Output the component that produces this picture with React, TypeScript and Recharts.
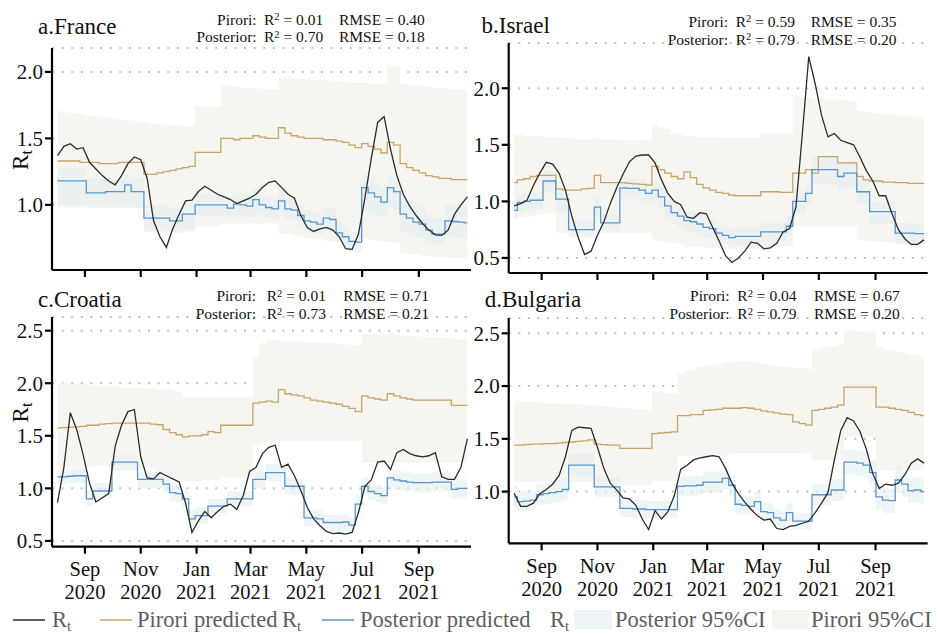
import React from 'react';
import { ComposedChart, Line, Area, XAxis, YAxis, CartesianGrid } from 'recharts';

const FONT = '"Liberation Serif", "Times New Roman", Times, serif';
const INK = '#111111';
const RT_COLOR = '#2b2b2b';
const PRIOR_COLOR = '#c5a66b';
const POST_COLOR = '#5b95c9';
const PRIOR_FILL = '#f7f5f0';
const POST_FILL = '#e3eff1';

// Days since 1 Sep 2020, one sample per week
const days = [-30, -23, -16, -9, -2, 5, 12, 19, 26, 33, 40, 47, 54, 61, 68, 75, 82, 89, 96, 103, 110, 117, 124, 131, 138, 145, 152, 159, 166, 173, 180, 187, 194, 201, 208, 215, 222, 229, 236, 243, 250, 257, 264, 271, 278, 285, 292, 299, 306, 313, 320, 327, 334, 341, 348, 355, 362, 369, 376, 383, 390, 397, 404, 411, 418];

const monthTicks = [0, 61, 122, 181, 242, 303, 365];
const monthNames = ['Sep', 'Nov', 'Jan', 'Mar', 'May', 'Jul', 'Sep'];
const monthYears = ['2020', '2020', '2021', '2021', '2021', '2021', '2021'];

// ---------- France ----------
const franceRt = [1.37, 1.44, 1.46, 1.42, 1.43, 1.32, 1.27, 1.22, 1.18, 1.15, 1.22, 1.31, 1.36, 1.34, 1.2, 0.88, 0.76, 0.68, 0.82, 0.93, 1.03, 1.035, 1.1, 1.14, 1.11, 1.08, 1.06, 1.04, 1.01, 1.03, 1.05, 1.08, 1.13, 1.17, 1.18, 1.13, 1.08, 1.05, 0.92, 0.83, 0.8, 0.82, 0.83, 0.81, 0.76, 0.67, 0.665, 0.78, 1.05, 1.35, 1.62, 1.665, 1.42, 1.22, 1.08, 0.99, 0.92, 0.86, 0.81, 0.775, 0.77, 0.81, 0.93, 1.0, 1.06];
const francePrior = [1.33, 1.33, 1.33, 1.33, 1.32, 1.32, 1.32, 1.31, 1.31, 1.31, 1.32, 1.32, 1.32, 1.32, 1.23, 1.23, 1.24, 1.25, 1.26, 1.27, 1.28, 1.29, 1.395, 1.395, 1.395, 1.395, 1.5, 1.5, 1.49, 1.5, 1.5, 1.52, 1.51, 1.5, 1.5, 1.58, 1.54, 1.52, 1.51, 1.5, 1.5, 1.5, 1.49, 1.49, 1.48, 1.47, 1.45, 1.43, 1.46, 1.44, 1.42, 1.39, 1.47, 1.45, 1.31, 1.28, 1.26, 1.24, 1.22, 1.21, 1.2, 1.2, 1.19, 1.19, 1.19];
const francePost = [1.18, 1.18, 1.18, 1.18, 1.18, 1.09, 1.09, 1.09, 1.1, 1.1, 1.1, 1.15, 1.1, 1.1, 0.9, 0.9, 0.9, 0.9, 0.88, 0.88, 0.93, 0.93, 1.0, 1.0, 1.0, 1.0, 1.0, 0.975, 1.005, 1.0, 0.99, 1.04, 1.0, 0.98, 0.97, 1.03, 0.97, 0.96, 0.92, 0.88, 0.87, 0.855, 0.9, 0.89, 0.79, 0.76, 0.725, 0.72, 1.13, 1.09, 1.06, 1.02, 1.13, 1.1, 0.93, 0.9, 0.87, 0.855, 0.81, 0.78, 0.78, 0.88, 0.875, 0.87, 0.865];
const francePostLo = [1.0, 1.0, 1.0, 1.0, 1.0, 0.98, 0.98, 0.98, 0.98, 0.98, 0.98, 0.98, 0.98, 0.98, 0.8, 0.8, 0.8, 0.8, 0.79, 0.79, 0.82, 0.82, 0.92, 0.92, 0.92, 0.92, 0.92, 0.9, 0.92, 0.92, 0.91, 0.93, 0.92, 0.9, 0.89, 0.94, 0.89, 0.88, 0.84, 0.8, 0.79, 0.78, 0.8, 0.8, 0.72, 0.68, 0.65, 0.64, 0.96, 0.94, 0.92, 0.9, 0.98, 0.96, 0.8, 0.78, 0.76, 0.75, 0.72, 0.7, 0.7, 0.76, 0.76, 0.75, 0.75];
const francePostHi = [1.28, 1.28, 1.28, 1.28, 1.28, 1.2, 1.2, 1.2, 1.2, 1.2, 1.2, 1.22, 1.2, 1.2, 1.0, 1.0, 1.0, 1.0, 0.98, 0.98, 1.02, 1.02, 1.08, 1.08, 1.08, 1.08, 1.08, 1.06, 1.09, 1.08, 1.07, 1.12, 1.08, 1.06, 1.05, 1.11, 1.05, 1.04, 1.0, 0.96, 0.95, 0.93, 0.98, 0.97, 0.87, 0.84, 0.8, 0.8, 1.22, 1.19, 1.16, 1.12, 1.22, 1.2, 1.06, 1.03, 1.0, 0.98, 0.93, 0.9, 0.9, 1.0, 1.0, 0.99, 0.99];
const francePriorLo = [0.98, 0.98, 0.98, 0.98, 0.98, 0.98, 0.98, 0.98, 0.98, 0.98, 0.98, 0.98, 0.98, 0.98, 0.8, 0.8, 0.8, 0.8, 0.8, 0.8, 0.8, 0.8, 0.84, 0.84, 0.84, 0.84, 0.86, 0.86, 0.86, 0.86, 0.86, 0.86, 0.86, 0.86, 0.86, 0.78, 0.78, 0.77, 0.76, 0.75, 0.74, 0.74, 0.73, 0.72, 0.72, 0.71, 0.7, 0.7, 0.75, 0.74, 0.73, 0.72, 0.72, 0.71, 0.64, 0.63, 0.63, 0.62, 0.62, 0.61, 0.61, 0.6, 0.6, 0.6, 0.59];
const francePriorHi = [1.71, 1.7, 1.69, 1.69, 1.68, 1.67, 1.67, 1.66, 1.66, 1.65, 1.64, 1.64, 1.63, 1.62, 1.62, 1.61, 1.61, 1.6, 1.6, 1.6, 1.59, 1.59, 1.74, 1.74, 1.74, 1.74, 1.9, 1.89, 1.89, 1.88, 1.88, 1.88, 1.87, 1.87, 1.87, 1.96, 1.96, 1.95, 1.95, 1.95, 1.94, 1.94, 1.94, 1.93, 1.93, 1.93, 1.92, 1.92, 1.92, 1.91, 1.91, 1.91, 2.05, 2.04, 1.91, 1.9, 1.9, 1.89, 1.89, 1.88, 1.88, 1.87, 1.87, 1.87, 1.86];

// ---------- Israel ----------
const israelRt = [0.96, 0.98, 1.01, 1.14, 1.25, 1.345, 1.33, 1.25, 1.1, 0.87, 0.68, 0.53, 0.56, 0.7, 0.82, 0.98, 1.12, 1.24, 1.35, 1.4, 1.41, 1.41, 1.34, 1.19, 1.07, 1.0, 0.97, 0.86, 0.85, 0.9, 0.89, 0.77, 0.65, 0.52, 0.46, 0.5, 0.56, 0.64, 0.63, 0.58, 0.59, 0.63, 0.73, 0.76, 0.95, 1.6, 2.28, 2.04, 1.76, 1.57, 1.6, 1.54, 1.52, 1.5, 1.39, 1.27, 1.18, 1.05, 1.05, 0.89, 0.75, 0.67, 0.62, 0.62, 0.66];
const israelPrior = [1.165, 1.19, 1.2, 1.22, 1.23, 1.23, 1.23, 1.11, 1.1, 1.1, 1.1, 1.11, 1.115, 1.23, 1.165, 1.165, 1.165, 1.165, 1.16, 1.155, 1.15, 1.145, 1.31, 1.28, 1.25, 1.22, 1.2, 1.26, 1.21, 1.15, 1.12, 1.1, 1.08, 1.07, 1.055, 1.05, 1.05, 1.05, 1.05, 1.085, 1.085, 1.085, 1.08, 1.08, 1.25, 1.25, 1.28, 1.25, 1.395, 1.395, 1.395, 1.34, 1.34, 1.34, 1.22, 1.19, 1.18, 1.18, 1.17, 1.17, 1.165, 1.165, 1.16, 1.16, 1.16];
const israelPost = [0.92, 0.99, 1.0, 1.01, 1.01, 1.18, 1.18, 1.02, 1.02, 0.75, 0.75, 0.75, 0.75, 0.95, 0.81, 0.81, 0.81, 1.12, 1.115, 1.115, 1.1, 1.07, 1.1, 1.04, 0.96, 0.9, 0.87, 0.83, 0.82, 0.8, 0.77, 0.76, 0.72, 0.7, 0.68, 0.69, 0.69, 0.69, 0.69, 0.73, 0.73, 0.73, 0.73, 0.78, 1.0, 1.0, 1.07, 1.28, 1.28, 1.28, 1.28, 1.22, 1.25, 1.25, 1.085, 1.085, 0.91, 0.91, 0.91, 0.91, 0.72, 0.72, 0.72, 0.715, 0.715];
const israelPostLo = [0.85, 0.9, 0.92, 0.93, 0.93, 1.08, 1.08, 0.9, 0.9, 0.68, 0.68, 0.68, 0.68, 0.85, 0.74, 0.74, 0.74, 1.02, 1.02, 1.02, 1.0, 0.98, 1.0, 0.94, 0.86, 0.8, 0.77, 0.74, 0.73, 0.71, 0.68, 0.67, 0.64, 0.62, 0.6, 0.61, 0.61, 0.61, 0.61, 0.65, 0.65, 0.65, 0.65, 0.7, 0.9, 0.9, 0.97, 1.15, 1.15, 1.15, 1.15, 1.1, 1.12, 1.12, 0.97, 0.97, 0.8, 0.8, 0.8, 0.8, 0.62, 0.62, 0.62, 0.62, 0.62];
const israelPostHi = [0.99, 1.06, 1.07, 1.08, 1.08, 1.27, 1.27, 1.12, 1.12, 0.83, 0.83, 0.83, 0.83, 1.04, 0.89, 0.89, 0.89, 1.21, 1.2, 1.2, 1.19, 1.16, 1.19, 1.13, 1.05, 0.99, 0.96, 0.92, 0.91, 0.89, 0.86, 0.85, 0.8, 0.78, 0.76, 0.77, 0.77, 0.77, 0.77, 0.81, 0.81, 0.81, 0.81, 0.87, 1.1, 1.1, 1.17, 1.4, 1.4, 1.4, 1.4, 1.33, 1.36, 1.36, 1.19, 1.19, 1.0, 1.0, 1.0, 1.0, 0.81, 0.81, 0.81, 0.8, 0.8];
const israelPriorLo = [0.85, 0.86, 0.86, 0.87, 0.88, 0.9, 0.9, 0.72, 0.72, 0.72, 0.72, 0.72, 0.72, 0.72, 0.72, 0.72, 0.72, 0.72, 0.72, 0.72, 0.72, 0.72, 0.66, 0.65, 0.64, 0.63, 0.62, 0.6, 0.6, 0.6, 0.59, 0.59, 0.58, 0.58, 0.58, 0.58, 0.58, 0.58, 0.58, 0.58, 0.6, 0.6, 0.6, 0.6, 0.78, 0.78, 0.78, 0.78, 0.78, 0.78, 0.78, 0.78, 0.78, 0.78, 0.66, 0.65, 0.65, 0.64, 0.64, 0.63, 0.63, 0.63, 0.62, 0.62, 0.62];
const israelPriorHi = [1.59, 1.59, 1.58, 1.58, 1.58, 1.57, 1.57, 1.56, 1.56, 1.56, 1.55, 1.55, 1.55, 1.56, 1.55, 1.55, 1.55, 1.54, 1.54, 1.54, 1.54, 1.54, 1.68, 1.66, 1.64, 1.6, 1.59, 1.58, 1.58, 1.57, 1.57, 1.57, 1.56, 1.56, 1.56, 1.56, 1.56, 1.56, 1.56, 1.6, 1.6, 1.6, 1.6, 1.6, 1.93, 1.92, 1.92, 1.91, 1.91, 1.9, 1.9, 1.9, 1.89, 1.89, 1.8, 1.79, 1.78, 1.78, 1.77, 1.77, 1.76, 1.76, 1.75, 1.75, 1.74];

// ---------- Croatia ----------
const croatiaRt = [0.865, 1.2, 1.72, 1.56, 1.32, 1.05, 0.87, 0.91, 0.95, 1.4, 1.6, 1.73, 1.75, 1.3, 1.1, 1.09, 1.15, 1.12, 1.09, 1.06, 0.86, 0.58, 0.69, 0.78, 0.72, 0.78, 0.83, 0.85, 0.8, 0.93, 1.16, 1.2, 1.33, 1.39, 1.41, 1.2, 1.23, 1.12, 0.98, 0.82, 0.71, 0.645, 0.59, 0.57, 0.575, 0.565, 0.58, 0.77, 1.02, 1.08, 1.25, 1.26, 1.18, 1.34, 1.37, 1.33, 1.31, 1.3, 1.31, 1.34, 1.11, 1.085, 1.085, 1.2, 1.47];
const croatiaPrior = [1.575, 1.578, 1.58, 1.585, 1.59, 1.6, 1.6, 1.61, 1.615, 1.62, 1.62, 1.62, 1.62, 1.62, 1.62, 1.61, 1.605, 1.56, 1.53, 1.51, 1.49, 1.5, 1.5, 1.51, 1.54, 1.53, 1.6, 1.6, 1.6, 1.6, 1.6, 1.81, 1.82, 1.83, 1.82, 1.94, 1.9, 1.89, 1.88, 1.86, 1.84, 1.83, 1.82, 1.81, 1.8, 1.78, 1.76, 1.73, 1.88, 1.86, 1.85, 1.84, 1.9, 1.88, 1.86, 1.85, 1.84, 1.84, 1.84, 1.84, 1.84, 1.84, 1.79, 1.79, 1.79];
const croatiaPost = [1.11, 1.11, 1.115, 1.12, 1.12, 0.9, 0.975, 0.975, 0.975, 1.25, 1.25, 1.25, 1.25, 1.085, 1.085, 1.085, 1.085, 1.04, 0.96, 0.95, 0.9, 0.71, 0.74, 0.74, 0.83, 0.83, 0.83, 0.9, 0.9, 0.9, 0.9, 1.085, 1.085, 1.15, 1.15, 1.15, 1.02, 1.02, 1.02, 0.72, 0.72, 0.71, 0.675, 0.675, 0.675, 0.68, 0.65, 0.85, 1.02, 0.97, 0.95, 0.93, 1.1, 1.08, 1.07, 1.06, 1.055, 1.055, 1.055, 1.06, 1.06, 1.06, 0.99, 1.0, 1.0];
const croatiaPostLo = [1.04, 1.04, 1.045, 1.05, 1.05, 0.83, 0.9, 0.9, 0.9, 1.17, 1.17, 1.17, 1.17, 1.0, 1.0, 1.0, 1.0, 0.96, 0.88, 0.87, 0.82, 0.63, 0.66, 0.66, 0.76, 0.76, 0.76, 0.83, 0.83, 0.83, 0.83, 1.0, 1.0, 1.07, 1.07, 1.07, 0.94, 0.94, 0.94, 0.64, 0.64, 0.63, 0.6, 0.6, 0.6, 0.6, 0.57, 0.76, 0.94, 0.89, 0.87, 0.85, 1.01, 0.99, 0.98, 0.97, 0.96, 0.96, 0.96, 0.97, 0.97, 0.97, 0.9, 0.91, 0.91];
const croatiaPostHi = [1.18, 1.18, 1.19, 1.19, 1.19, 0.98, 1.05, 1.05, 1.05, 1.32, 1.32, 1.32, 1.32, 1.16, 1.16, 1.16, 1.16, 1.12, 1.04, 1.03, 0.98, 0.79, 0.82, 0.82, 0.9, 0.9, 0.9, 0.97, 0.97, 0.97, 0.97, 1.16, 1.16, 1.23, 1.23, 1.23, 1.1, 1.1, 1.1, 0.8, 0.8, 0.79, 0.75, 0.75, 0.75, 0.76, 0.73, 0.94, 1.1, 1.05, 1.03, 1.01, 1.19, 1.17, 1.16, 1.15, 1.14, 1.14, 1.14, 1.15, 1.15, 1.15, 1.08, 1.09, 1.09];
const croatiaPriorLo = [1.2, 1.2, 1.2, 1.2, 1.21, 1.21, 1.21, 1.22, 1.22, 1.22, 1.22, 1.22, 1.22, 1.22, 1.2, 1.18, 1.15, 1.12, 1.1, 1.08, 1.07, 1.07, 1.07, 1.08, 1.08, 1.08, 1.1, 1.1, 1.1, 1.1, 1.1, 1.4, 1.42, 1.44, 1.45, 1.45, 1.45, 1.45, 1.45, 1.45, 1.45, 1.45, 1.45, 1.45, 1.45, 1.45, 1.45, 1.45, 1.24, 1.24, 1.24, 1.24, 1.24, 1.24, 1.24, 1.24, 1.24, 1.24, 1.24, 1.24, 1.24, 1.24, 1.24, 1.24, 1.24];
const croatiaPriorHi = [2.0, 2.0, 1.99, 1.99, 1.99, 1.98, 1.98, 1.97, 1.97, 1.97, 1.96, 1.96, 1.96, 1.95, 1.95, 1.95, 1.94, 1.94, 1.93, 1.92, 1.87, 1.87, 1.87, 1.87, 1.87, 1.87, 1.87, 1.87, 1.87, 1.87, 1.87, 2.25, 2.38, 2.41, 2.41, 2.4, 2.4, 2.4, 2.39, 2.39, 2.39, 2.38, 2.38, 2.38, 2.37, 2.37, 2.36, 2.36, 2.47, 2.47, 2.46, 2.46, 2.48, 2.46, 2.45, 2.45, 2.45, 2.44, 2.44, 2.44, 2.43, 2.43, 2.42, 2.42, 2.42];

// ---------- Bulgaria ----------
const bulgariaRt = [0.985, 0.86, 0.86, 0.89, 0.98, 1.02, 1.07, 1.15, 1.33, 1.58, 1.61, 1.605, 1.6, 1.42, 1.22, 1.08, 1.016, 0.94, 0.93, 0.87, 0.74, 0.64, 0.82, 0.74, 0.81, 0.96, 1.21, 1.25, 1.3, 1.32, 1.33, 1.34, 1.33, 1.22, 1.08, 0.98, 0.9, 0.83, 0.77, 0.73, 0.74, 0.65, 0.64, 0.67, 0.68, 0.7, 0.72, 0.8, 0.89, 0.99, 1.3, 1.58, 1.7, 1.67, 1.57, 1.4, 1.17, 1.03, 1.07, 1.06, 1.08, 1.16, 1.27, 1.31, 1.27];
const bulgariaPrior = [1.44, 1.44, 1.445, 1.45, 1.45, 1.455, 1.455, 1.46, 1.465, 1.47, 1.475, 1.48, 1.49, 1.45, 1.445, 1.44, 1.44, 1.41, 1.41, 1.41, 1.41, 1.41, 1.55, 1.555, 1.56, 1.565, 1.72, 1.72, 1.73, 1.73, 1.77, 1.775, 1.78, 1.79, 1.79, 1.79, 1.795, 1.79, 1.78, 1.765, 1.755, 1.745, 1.735, 1.73, 1.66, 1.645, 1.63, 1.77, 1.78, 1.79, 1.8, 1.82, 1.99, 1.99, 1.99, 1.99, 1.99, 1.8, 1.8, 1.79, 1.78, 1.77, 1.75, 1.73, 1.72];
const bulgariaPost = [0.95, 0.905, 0.91, 0.92, 0.97, 0.98, 0.99, 1.0, 1.02, 1.25, 1.25, 1.25, 1.25, 1.045, 1.045, 1.045, 1.045, 0.84, 0.84, 0.835, 0.835, 0.83, 0.83, 0.83, 0.83, 0.83, 1.05, 1.055, 1.055, 1.06, 1.09, 1.09, 1.09, 1.125, 1.06, 0.88, 0.87, 0.86, 0.905, 0.81, 0.8, 0.75, 0.73, 0.8, 0.72, 0.72, 0.72, 0.97, 0.97, 0.97, 1.015, 1.015, 1.28, 1.28, 1.27, 1.25, 1.18, 0.95, 0.92, 0.915, 1.11, 1.07, 1.01, 1.015, 1.0];
const bulgariaPostLo = [0.84, 0.82, 0.82, 0.83, 0.87, 0.88, 0.89, 0.9, 0.92, 1.14, 1.14, 1.14, 1.14, 0.95, 0.95, 0.95, 0.95, 0.76, 0.76, 0.75, 0.75, 0.75, 0.75, 0.75, 0.75, 0.75, 0.96, 0.96, 0.96, 0.97, 0.99, 0.99, 0.99, 1.02, 0.96, 0.79, 0.78, 0.77, 0.81, 0.72, 0.71, 0.67, 0.65, 0.71, 0.64, 0.64, 0.64, 0.87, 0.87, 0.87, 0.91, 0.91, 1.16, 1.16, 1.15, 1.13, 1.06, 0.83, 0.8, 0.8, 0.98, 0.95, 0.89, 0.9, 0.88];
const bulgariaPostHi = [1.06, 1.0, 1.0, 1.01, 1.07, 1.08, 1.09, 1.1, 1.12, 1.36, 1.36, 1.36, 1.36, 1.14, 1.14, 1.14, 1.14, 0.92, 0.92, 0.92, 0.92, 0.91, 0.91, 0.91, 0.91, 0.91, 1.14, 1.15, 1.15, 1.15, 1.19, 1.19, 1.19, 1.23, 1.16, 0.97, 0.96, 0.95, 1.0, 0.9, 0.89, 0.84, 0.82, 0.89, 0.8, 0.8, 0.8, 1.07, 1.07, 1.07, 1.12, 1.12, 1.4, 1.4, 1.39, 1.37, 1.3, 1.07, 1.04, 1.03, 1.24, 1.19, 1.13, 1.13, 1.12];
const bulgariaPriorLo = [1.09, 1.09, 1.09, 1.09, 1.09, 1.09, 1.09, 1.09, 1.09, 1.09, 1.09, 1.09, 1.09, 1.09, 1.09, 1.09, 1.09, 1.06, 1.06, 1.06, 1.06, 1.06, 1.1, 1.1, 1.1, 1.1, 1.34, 1.34, 1.34, 1.34, 1.34, 1.34, 1.34, 1.34, 1.36, 1.36, 1.36, 1.36, 1.36, 1.36, 1.36, 1.36, 1.36, 1.36, 1.36, 1.36, 1.36, 1.3, 1.3, 1.3, 1.3, 1.3, 1.52, 1.52, 1.52, 1.52, 1.52, 1.2, 1.2, 1.2, 1.2, 1.2, 1.2, 1.2, 1.2];
const bulgariaPriorHi = [1.86, 1.86, 1.85, 1.85, 1.85, 1.84, 1.84, 1.84, 1.83, 1.83, 1.83, 1.82, 1.82, 1.81, 1.81, 1.8, 1.8, 1.79, 1.79, 1.78, 1.78, 1.77, 1.94, 1.94, 1.93, 1.93, 2.12, 2.14, 2.16, 2.18, 2.19, 2.2, 2.21, 2.22, 2.23, 2.24, 2.24, 2.23, 2.22, 2.21, 2.2, 2.19, 2.18, 2.18, 2.17, 2.17, 2.16, 2.34, 2.36, 2.37, 2.38, 2.4, 2.53, 2.53, 2.52, 2.52, 2.51, 2.37, 2.35, 2.34, 2.32, 2.31, 2.3, 2.29, 2.27];

function buildRows(rt: number[], prior: number[], post: number[], postLo: number[], postHi: number[], priorLo: number[], priorHi: number[]) {
  return days.map((day, i) => ({
    day,
    rt: rt[i],
    prior: prior[i],
    post: post[i],
    postCI: [postLo[i], postHi[i]],
    priorCI: [priorLo[i], priorHi[i]],
  }));
}

type Geo = {
  left: number; top: number; width: number; height: number;
  marginTop: number; marginRight: number; yAxisWidth: number; xAxisHeight: number;
};

type PanelProps = {
  rows: any[]; geo: Geo; yDomain: [number, number]; yTicks: number[]; showMonthLabels: boolean;
};

const axisStroke = { stroke: '#000', strokeWidth: 2.2 };

function Panel({ rows, geo, yDomain, yTicks, showMonthLabels }: PanelProps) {
  const plotBottom = geo.height - geo.xAxisHeight;
  const renderYTick = (p: any) => (
    <text x={geo.yAxisWidth - 9} y={p.y + 7.3} textAnchor="end" fontFamily={FONT} fontSize={21} fill={INK}>
      {Number(p.payload.value).toFixed(1)}
    </text>
  );
  const renderXTick = (p: any) => {
    if (!showMonthLabels) return <g />;
    const i = monthTicks.indexOf(p.payload.value);
    return (
      <g fontFamily={FONT} fontSize={20.5} fill={INK}>
        <text x={p.x} y={plotBottom + 29.5} textAnchor="middle">{monthNames[i]}</text>
        <text x={p.x} y={plotBottom + 52.5} textAnchor="middle">{monthYears[i]}</text>
      </g>
    );
  };
  return (
    <div style={{ position: 'absolute', left: geo.left, top: geo.top, width: geo.width, height: geo.height }}>
      <ComposedChart
        width={geo.width}
        height={geo.height}
        data={rows}
        margin={{ top: geo.marginTop, right: geo.marginRight, bottom: 0, left: 0 }}
      >
        <CartesianGrid vertical={false} stroke="#c2c2c2" strokeWidth={2} strokeDasharray="2 7.6" />
        <XAxis
          dataKey="day"
          type="number"
          domain={[-36, 422]}
          ticks={monthTicks}
          interval={0}
          allowDataOverflow
          height={geo.xAxisHeight}
          tickSize={7}
          axisLine={axisStroke}
          tickLine={axisStroke}
          tick={renderXTick}
        />
        <YAxis
          type="number"
          domain={yDomain}
          ticks={yTicks}
          interval={0}
          allowDataOverflow
          width={geo.yAxisWidth}
          tickSize={7}
          axisLine={axisStroke}
          tickLine={axisStroke}
          tick={renderYTick}
        />
        <Area dataKey="priorCI" type="step" stroke="none" fill={PRIOR_FILL} fillOpacity={1} isAnimationActive={false} />
        <Area dataKey="postCI" type="step" stroke="none" fill={POST_FILL} fillOpacity={0.6} isAnimationActive={false} />
        <Line dataKey="prior" type="step" stroke={PRIOR_COLOR} strokeWidth={1.3} dot={false} isAnimationActive={false} />
        <Line dataKey="post" type="step" stroke={POST_COLOR} strokeWidth={1.3} dot={false} isAnimationActive={false} />
        <Line dataKey="rt" type="linear" stroke={RT_COLOR} strokeWidth={1.3} dot={false} isAnimationActive={false} />
      </ComposedChart>
    </div>
  );
}

type StatsProps = {
  xColon: number; xR: number; xRmse: number; y1: number; y2: number;
  priorR2: string; priorRmse: string; postR2: string; postRmse: string;
};

function StatRow({ xColon, xR, xRmse, y, name, r2, rmse }: { xColon: number; xR: number; xRmse: number; y: number; name: string; r2: string; rmse: string }) {
  return (
    <g>
      <text x={xColon} y={y} textAnchor="end">{name}</text>
      <text x={xR} y={y}>
        R<tspan dy={-4.5} fontSize={10.5}>2</tspan><tspan dy={4.5}>{` = ${r2}`}</tspan>
      </text>
      <text x={xRmse} y={y}>{`RMSE = ${rmse}`}</text>
    </g>
  );
}

function Stats(p: StatsProps) {
  return (
    <g fontFamily={FONT} fontSize={15.5} fill={INK}>
      <StatRow xColon={p.xColon} xR={p.xR} xRmse={p.xRmse} y={p.y1} name="Pirori:" r2={p.priorR2} rmse={p.priorRmse} />
      <StatRow xColon={p.xColon} xR={p.xR} xRmse={p.xRmse} y={p.y2} name="Posterior:" r2={p.postR2} rmse={p.postRmse} />
    </g>
  );
}

const franceRows = buildRows(franceRt, francePrior, francePost, francePostLo, francePostHi, francePriorLo, francePriorHi);
const israelRows = buildRows(israelRt, israelPrior, israelPost, israelPostLo, israelPostHi, israelPriorLo, israelPriorHi);
const croatiaRows = buildRows(croatiaRt, croatiaPrior, croatiaPost, croatiaPostLo, croatiaPostHi, croatiaPriorLo, croatiaPriorHi);
const bulgariaRows = buildRows(bulgariaRt, bulgariaPrior, bulgariaPost, bulgariaPostLo, bulgariaPostHi, bulgariaPriorLo, bulgariaPriorHi);

export default function App() {
  const legendGrey = '#5e5e5e';
  return (
    <div style={{ position: 'absolute', left: 0, top: 0, width: 938, height: 634, background: '#fff', overflow: 'hidden' }}>
      <Panel
        rows={franceRows}
        geo={{ left: 0, top: 0, width: 475, height: 282, marginTop: 48, marginRight: 4, yAxisWidth: 52, xAxisHeight: 12 }}
        yDomain={[0.51, 2.18]}
        yTicks={[1.0, 1.5, 2.0]}
        showMonthLabels={false}
      />
      <Panel
        rows={israelRows}
        geo={{ left: 468, top: 0, width: 465.7, height: 285, marginTop: 43, marginRight: 6, yAxisWidth: 40.7, xAxisHeight: 12 }}
        yDomain={[0.367, 2.4]}
        yTicks={[0.5, 1.0, 1.5, 2.0]}
        showMonthLabels={false}
      />
      <Panel
        rows={croatiaRows}
        geo={{ left: 0, top: 290, width: 475, height: 316.7, marginTop: 27, marginRight: 4, yAxisWidth: 52, xAxisHeight: 60 }}
        yDomain={[0.445, 2.63]}
        yTicks={[0.5, 1.0, 1.5, 2.0, 2.5]}
        showMonthLabels={true}
      />
      <Panel
        rows={bulgariaRows}
        geo={{ left: 468, top: 290, width: 465.7, height: 313.3, marginTop: 28, marginRight: 6, yAxisWidth: 40.7, xAxisHeight: 60 }}
        yDomain={[0.51, 2.645]}
        yTicks={[1.0, 1.5, 2.0, 2.5]}
        showMonthLabels={true}
      />

      <svg width={938} height={634} style={{ position: 'absolute', left: 0, top: 0, pointerEvents: 'none' }}>
        {/* panel titles */}
        <g fontFamily={FONT} fontSize={23} fill={INK}>
          <text x={38} y={34}>a.France</text>
          <text x={481.5} y={33.3}>b.Israel</text>
          <text x={38} y={306.7}>c.Croatia</text>
          <text x={484.7} y={307}>d.Bulgaria</text>
        </g>

        <Stats xColon={256.7} xR={264} xRmse={339} y1={24.5} y2={42.2} priorR2="0.01" priorRmse="0.40" postR2="0.70" postRmse="0.18" />
        <Stats xColon={728} xR={735.7} xRmse={810.7} y1={26.8} y2={44.5} priorR2="0.59" priorRmse="0.35" postR2="0.79" postRmse="0.20" />
        <Stats xColon={256} xR={266.7} xRmse={343.3} y1={301.3} y2={319} priorR2="0.01" priorRmse="0.71" postR2="0.73" postRmse="0.21" />
        <Stats xColon={729.7} xR={737.3} xRmse={814} y1={301.3} y2={319} priorR2="0.04" priorRmse="0.67" postR2="0.79" postRmse="0.20" />

        {/* y-axis titles */}
        <g fontFamily={FONT} fontSize={23} fill={INK}>
          <text transform="translate(28,160) rotate(-90)" textAnchor="middle">
            R<tspan dy={4} fontSize={16}>t</tspan>
          </text>
          <text transform="translate(28,412.5) rotate(-90)" textAnchor="middle">
            R<tspan dy={4} fontSize={16}>t</tspan>
          </text>
        </g>

        {/* legend */}
        <g fontFamily={FONT} fontSize={22.5} fill={legendGrey}>
          <line x1={13} x2={45} y1={620} y2={620} stroke={RT_COLOR} strokeWidth={1.5} />
          <text x={52} y={626.5}>R<tspan dy={4} fontSize={15}>t</tspan></text>

          <line x1={100} x2={132} y1={620} y2={620} stroke={PRIOR_COLOR} strokeWidth={1.5} />
          <text x={137} y={626.5}>Pirori predicted</text>
          <text x={282} y={626.5}>R<tspan dy={4} fontSize={15}>t</tspan></text>

          <line x1={322} x2={354} y1={620} y2={620} stroke={POST_COLOR} strokeWidth={1.5} />
          <text x={360} y={626.5}>Posterior predicted</text>
          <text x={550} y={626.5}>R<tspan dy={4} fontSize={15}>t</tspan></text>

          <rect x={574} y={610} width={38} height={19} fill="#edf5f7" />
          <text x={615} y={626.5}>Posterior 95%CI</text>

          <rect x={772} y={610} width={37} height={19} fill="#f5f4ef" />
          <text x={811} y={626.5}>Pirori 95%CI</text>
        </g>
      </svg>
    </div>
  );
}
